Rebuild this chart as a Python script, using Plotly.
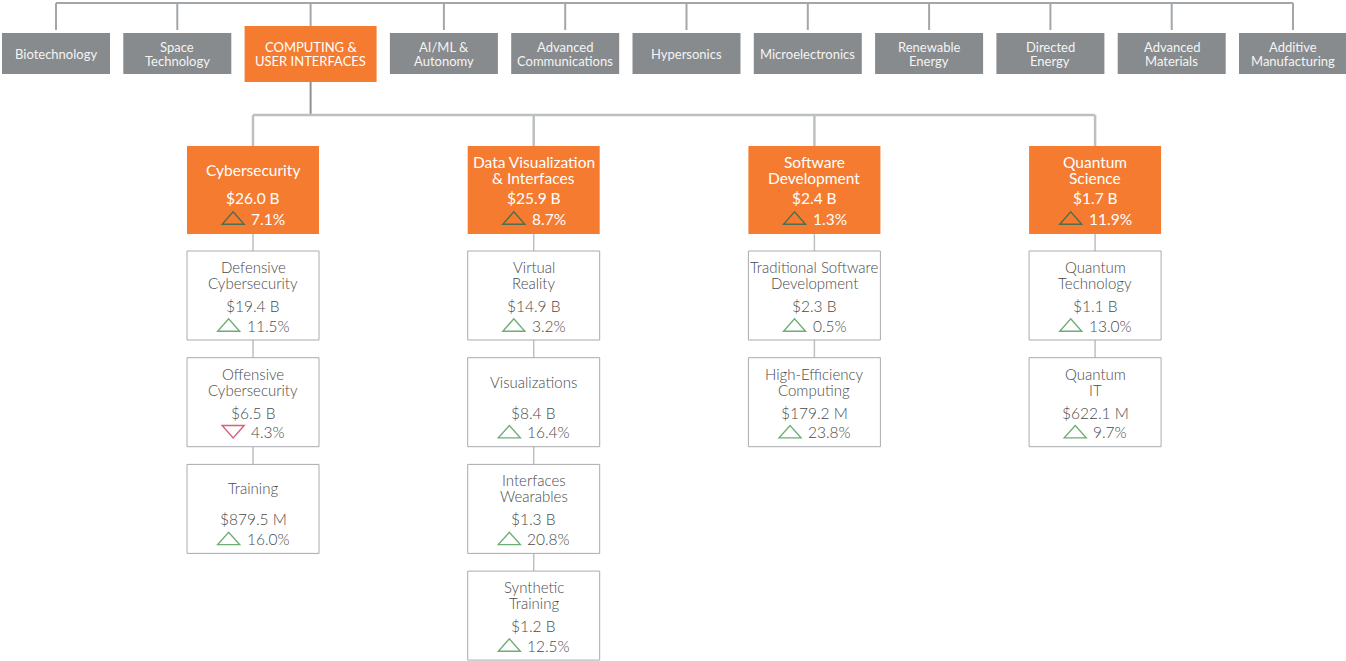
import plotly.graph_objects as go

# ---------------- data ----------------
top_categories = ["Biotechnology", "Space\nTechnology", "COMPUTING &\nUSER INTERFACES", "AI/ML &\nAutonomy",
                  "Advanced\nCommunications", "Hypersonics", "Microelectronics", "Renewable\nEnergy",
                  "Directed\nEnergy", "Advanced\nMaterials", "Additive\nManufacturing"]
selected_top = 2

sub_names = ["Cybersecurity", "Data Visualization\n& Interfaces", "Software\nDevelopment", "Quantum\nScience"]
sub_values_musd = [26000, 25900, 2400, 1700]
sub_change_pct = [7.1, 8.7, 1.3, 11.9]

leaf_names = [
    ["Defensive\nCybersecurity", "Offensive\nCybersecurity", "Training"],
    ["Virtual\nReality", "Visualizations", "Interfaces\nWearables", "Synthetic\nTraining"],
    ["Traditional Software\nDevelopment", "High-Efficiency\nComputing"],
    ["Quantum\nTechnology", "Quantum\nIT"],
]
leaf_values_musd = [
    [19400, 6500, 879.5],
    [14900, 8400, 1300, 1200],
    [2300, 179.2],
    [1100, 622.1],
]
leaf_change_pct = [
    [11.5, -4.3, 16.0],
    [3.2, 16.4, 20.8, 12.5],
    [0.5, 23.8],
    [13.0, 9.7],
]

# ---------------- styles ----------------
W, H = 1346, 661
ORANGE = "#F47B2F"
GRAY_BOX = "#878B8D"
LINE_DARK = "#A3A7AA"
LINE_LIGHT = "#BDC0C1"
BORDER = "#A9ABAD"
TEXT_GRAY = "#4A4A4A"
UP_GREEN = "#6DAE76"
UP_DARK = "#4E6E50"
DOWN_RED = "#D65F7B"
FONT = "Lato"


def fmt_value(m):
    if m >= 1000:
        return f"${m/1000:.1f} B"
    return f"${m:.1f} M"


def est_width(s, size):
    w = 0
    for ch in s:
        if ch.isdigit():
            w += 0.58
        elif ch == ".":
            w += 0.25
        elif ch == "%":
            w += 0.83
        else:
            w += 0.5
    return w * size


shapes = []
annotations = []


def add_line(x0, y0, x1, y1, color, width):
    shapes.append(dict(type="line", xref="x", yref="y", x0=x0, y0=y0, x1=x1, y1=y1,
                       line=dict(color=color, width=width), layer="below"))


def add_rect(x0, y0, x1, y1, fill, border=None):
    shapes.append(dict(type="rect", xref="x", yref="y", x0=x0, y0=y0, x1=x1, y1=y1,
                       fillcolor=fill, line=dict(color=border or fill, width=1 if border else 0),
                       layer="above"))


def add_text(x, y, text, size, color, weight=400, anchor="center"):
    annotations.append(dict(x=x, y=y, xref="x", yref="y", text=text, showarrow=False,
                            xanchor=anchor, yanchor="middle",
                            font=dict(family=FONT, size=size, color=color, weight=weight)))


def add_lines(cx, cy, label, size, color, spacing, weight=400):
    parts = label.split("\n")
    n = len(parts)
    for i, p in enumerate(parts):
        add_text(cx, cy + (i - (n - 1) / 2) * spacing, p, size, color, weight)


def add_change(cx, cy, pct, size, text_color, up_color, weight=400):
    txt = f"{abs(pct):.1f}%"
    tw = est_width(txt, size)
    tri_w, gap = 22, 5
    group = tri_w + gap + tw
    left = cx - group / 2
    tcx = left + tri_w / 2
    hh = 6.2
    if pct >= 0:
        path = f"M {tcx-11},{cy+hh} L {tcx+11},{cy+hh} L {tcx},{cy-hh} Z"
        col = up_color
    else:
        path = f"M {tcx-11},{cy-hh} L {tcx+11},{cy-hh} L {tcx},{cy+hh} Z"
        col = DOWN_RED
    shapes.append(dict(type="path", xref="x", yref="y", path=path,
                       line=dict(color=col, width=1.4), fillcolor="rgba(0,0,0,0)", layer="above"))
    add_text(left + tri_w + gap, cy + 0.5, txt, size, text_color, weight, anchor="left")


# ---------------- top level ----------------
top_w, sel_extra, top_step, top_left0 = 108, 24, 121.3, 2
top_centers = []
for i, name in enumerate(top_categories):
    left = top_left0 + top_step * i + (sel_extra if i > selected_top else 0)
    w = top_w + (sel_extra if i == selected_top else 0)
    cx = left + w / 2
    top_centers.append(cx)
    if i == selected_top:
        add_rect(left, 26, left + w, 82, ORANGE)
        add_lines(cx, 54, name, 13, "white", 14)
    else:
        add_rect(left, 33, left + w, 74, GRAY_BOX)
        add_lines(cx, 53.5, name, 13, "#F4F4F4", 14)
    add_line(cx, 3, cx, 30, LINE_DARK, 2)
add_line(top_centers[0], 3, top_centers[-1], 3, LINE_DARK, 2)

# ---------------- second level ----------------
sel_cx = top_centers[selected_top]
sub_w, sub_top, sub_h, sub_step, sub_cx0 = 132, 146, 88, 280.7, 253
bar_y = 115
add_line(sel_cx, 82, sel_cx, bar_y, "#8E9194", 2)
sub_centers = [sub_cx0 + sub_step * j for j in range(len(sub_names))]
add_line(sub_centers[0], bar_y, sub_centers[-1], bar_y, LINE_LIGHT, 2.5)

leaf_top0, leaf_h, leaf_step = 251, 89, 106.7

for j, name in enumerate(sub_names):
    cx = sub_centers[j]
    x0, x1 = cx - sub_w / 2, cx + sub_w / 2
    add_line(cx, bar_y, cx, sub_top, LINE_LIGHT, 2.5)
    add_rect(x0, sub_top, x1, sub_top + sub_h, ORANGE)
    add_lines(cx, sub_top + 24, name, 15.5, "white", 16)
    add_text(cx, sub_top + 52, fmt_value(sub_values_musd[j]), 15.5, "white")
    add_change(cx, sub_top + 72, sub_change_pct[j], 15.5, "white", UP_DARK)

    prev_bottom = sub_top + sub_h
    for k, lname in enumerate(leaf_names[j]):
        ty = leaf_top0 + leaf_step * k
        add_line(cx, prev_bottom, cx, ty, LINE_LIGHT, 1.5)
        add_rect(x0, ty, x1, ty + leaf_h, "white", BORDER)
        add_lines(cx, ty + 24, lname, 15, TEXT_GRAY, 16, 300)
        add_text(cx, ty + 55, fmt_value(leaf_values_musd[j][k]), 15.5, TEXT_GRAY, 300)
        add_change(cx, ty + 74, leaf_change_pct[j][k], 15.5, TEXT_GRAY, UP_GREEN, 300)
        prev_bottom = ty + leaf_h

fig = go.Figure()
fig.add_trace(go.Scatter(x=[0, W], y=[0, H], mode="markers", marker=dict(opacity=0),
                         hoverinfo="skip", showlegend=False))
fig.update_layout(
    width=W, height=H, margin=dict(l=0, r=0, t=0, b=0),
    paper_bgcolor="white", plot_bgcolor="white",
    xaxis=dict(range=[0, W], visible=False, fixedrange=True),
    yaxis=dict(range=[H, 0], visible=False, fixedrange=True),
    shapes=shapes, annotations=annotations, showlegend=False,
)
fig.write_html("out.html", config={"displayModeBar": False},
               post_script="document.body.style.margin='0';document.body.style.overflow='hidden';")
